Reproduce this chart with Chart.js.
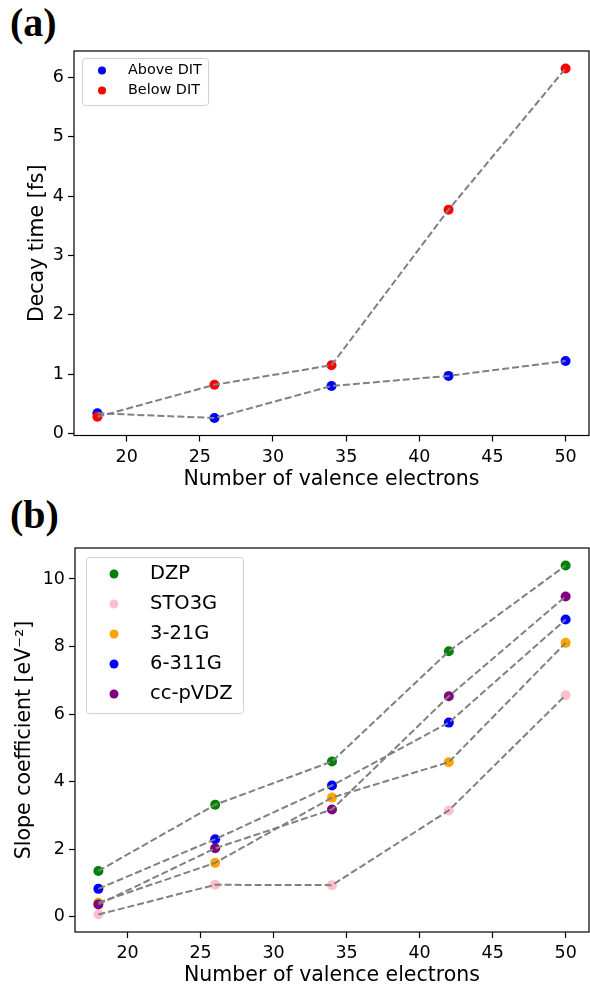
<!DOCTYPE html>
<html>
<head>
<meta charset="utf-8">
<script src="https://cdn.jsdelivr.net/npm/chart.js@4.4.0/dist/chart.umd.min.js"></script>
<style>
  html, body { margin: 0; padding: 0; background: #fff; overflow: hidden; }
  body { width: 590px; height: 985px; position: relative; }
  .panel { position: absolute; left: 0; }
  .tag { position: absolute; left: 10px; font: bold 40px "Liberation Serif", serif; line-height: 40px; color: #000; }
</style>
</head>
<body>
<div class="tag" style="top:3px">(a)</div>
<div class="tag" style="top:495px">(b)</div>
<canvas id="chartA" class="panel" style="top:0" width="590" height="500"></canvas>
<canvas id="chartB" class="panel" style="top:490px" width="590" height="505"></canvas>
<script>
// x values shared by both panels
const electrons = [18, 26, 34, 42, 50];
const xTicks = [20, 25, 30, 35, 40, 45, 50];

// panel (a)
const decayTicks = [0, 1, 2, 3, 4, 5, 6];
const decayNames = ["Above DIT", "Below DIT"];
const aboveDIT = [0.34, 0.26, 0.80, 0.97, 1.22];
const belowDIT = [0.28, 0.82, 1.15, 3.77, 6.15];

// panel (b)
const slopeTicks = [0, 2, 4, 6, 8, 10];
const basisNames = ["DZP", "STO3G", "3-21G", "6-311G", "cc-pVDZ"];
const dzp = [1.36, 3.32, 4.60, 7.86, 10.40];
const sto3g = [0.07, 0.95, 0.94, 3.15, 6.56];
const b321g = [0.42, 1.60, 3.53, 4.58, 8.11];
const b6311g = [0.83, 2.30, 3.89, 5.75, 8.80];
const ccpvdz = [0.37, 2.03, 3.18, 6.53, 9.48];

const FONT = "'DejaVu Sans', sans-serif";

// gray dashed line on top, colored dots below (later series over earlier ones)
function buildSets(names, series, colors) {
  const sets = [];
  names.forEach((name, i) => {
    const pts = electrons.map((x, j) => ({ x: x, y: series[i][j] }));
    sets.push({
      label: name, data: pts, showLine: true, order: 0,
      borderColor: "#808080", borderWidth: 2, borderDash: [7, 3], pointRadius: 0,
    });
    sets.push({
      label: name, data: pts, showLine: false, order: 1 + names.length - i,
      pointRadius: 5, pointHoverRadius: 5, pointBorderWidth: 0,
      pointBackgroundColor: colors[i], legendColor: colors[i],
    });
  });
  return sets;
}

// axes frame on all four sides + matplotlib-like inset legend
const insetLegend = {
  id: "insetLegend",
  afterDatasetsDraw(chart, args, opts) {
    const { ctx, chartArea: a } = chart;
    ctx.save();
    ctx.strokeStyle = "#000";
    ctx.lineWidth = 1.2;
    ctx.strokeRect(a.left, a.top, a.right - a.left, a.bottom - a.top);

    const x0 = a.left + opts.left;
    const y0 = a.top + opts.top;
    ctx.fillStyle = "rgba(255,255,255,0.8)";
    ctx.strokeStyle = "rgba(204,204,204,0.9)";
    ctx.lineWidth = 1;
    ctx.beginPath();
    ctx.roundRect(x0 + 0.5, y0 + 0.5, opts.width, opts.height, 3);
    ctx.fill();
    ctx.stroke();

    ctx.font = opts.fontSize + "px " + FONT;
    ctx.textBaseline = "middle";
    ctx.textAlign = "left";
    chart.data.datasets.filter(d => d.legendColor).forEach((d, i) => {
      const y = y0 + opts.firstRow + i * opts.rowGap;
      ctx.fillStyle = d.legendColor;
      ctx.beginPath();
      ctx.arc(x0 + opts.markerX, y, opts.markerR, 0, Math.PI * 2);
      ctx.fill();
      ctx.fillStyle = "#000";
      ctx.fillText(d.label, x0 + opts.textX, y);
    });
    ctx.restore();
  },
};

function axisRange(series) {
  const all = series.flat();
  const lo = Math.min(...all), hi = Math.max(...all);
  const pad = (hi - lo) * 0.05;
  return [lo - pad, hi + pad];
}

function makeChart(canvas, cfg) {
  const [ymin, ymax] = axisRange(cfg.series);
  const tickFont = { family: FONT, size: 17.5 };
  const titleFont = { family: FONT, size: 20.5 };
  const grid = { drawOnChartArea: false, drawTicks: true, tickLength: 6, tickColor: "#000", tickWidth: 1.2 };

  return new Chart(canvas.getContext("2d"), {
    type: "scatter",
    data: { datasets: buildSets(cfg.names, cfg.series, cfg.colors) },
    plugins: [insetLegend],
    options: {
      responsive: false,
      animation: false,
      events: [],
      layout: { autoPadding: false, padding: { top: cfg.padTop, right: 1, left: 0, bottom: 0 } },
      plugins: {
        legend: { display: false },
        tooltip: { enabled: false },
        insetLegend: cfg.legend,
      },
      scales: {
        x: {
          type: "linear", min: 16.4, max: 51.6,
          afterBuildTicks: s => { s.ticks = xTicks.map(v => ({ value: v })); },
          afterFit: s => { s.height = cfg.xHeight; s.paddingLeft = 0; s.paddingRight = 0; },
          ticks: { color: "#000", font: tickFont, padding: 5, autoSkip: false, maxRotation: 0 },
          grid: grid,
          border: { display: false },
          title: { display: true, text: "Number of valence electrons", color: "#000", font: titleFont, padding: { top: 0, bottom: cfg.xTitlePad } },
        },
        y: {
          type: "linear", min: ymin, max: ymax,
          afterBuildTicks: s => { s.ticks = cfg.yTicks.map(v => ({ value: v })); },
          afterFit: s => { s.width = cfg.left; s.paddingTop = 0; s.paddingBottom = 0; },
          ticks: { color: "#000", font: tickFont, padding: 4 },
          grid: grid,
          border: { display: false },
          title: { display: true, text: cfg.yTitle, color: "#000", font: titleFont, padding: { top: cfg.yTitlePad, bottom: 0 } },
        },
      },
    },
  });
}

makeChart(document.getElementById("chartA"), {
  names: decayNames,
  series: [aboveDIT, belowDIT],
  colors: ["#0000ff", "#ff0000"],
  yTicks: decayTicks,
  yTitle: "Decay time [fs]",
  left: 74, padTop: 51, xHeight: 64.5, xTitlePad: 7.7, yTitlePad: 25,
  legend: { left: 8, top: 7, width: 126, height: 47, firstRow: 12.5, rowGap: 20, markerX: 20, markerR: 4, textX: 46, fontSize: 14.4 },
});

makeChart(document.getElementById("chartB"), {
  names: basisNames,
  series: [dzp, sto3g, b321g, b6311g, ccpvdz],
  colors: ["#008000", "#ffc0cb", "#ffa500", "#0000ff", "#800080"],
  yTicks: slopeTicks,
  yTitle: "Slope coefficient [eV⁻²]",
  left: 75, padTop: 58, xHeight: 63, xTitlePad: 7, yTitlePad: 12.5,
  legend: { left: 11, top: 9, width: 157, height: 156, firstRow: 17, rowGap: 30, markerX: 28, markerR: 4.5, textX: 64, fontSize: 19.5 },
});
</script>
</body>
</html>
